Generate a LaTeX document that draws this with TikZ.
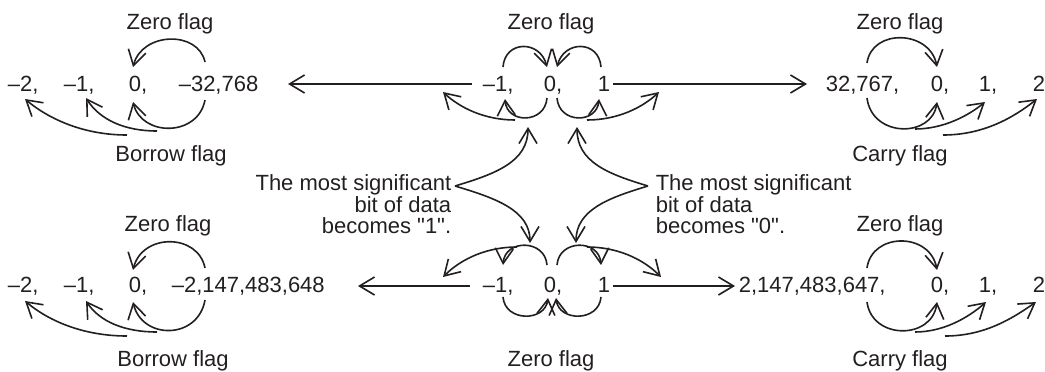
\documentclass[tikz,border=0pt]{standalone}
\usepackage{fontspec}
\setmainfont{Liberation Sans}
\usetikzlibrary{arrows.meta}
\definecolor{ink}{RGB}{35,31,32}
\newcommand\straightquote{{\XeTeXglyph\XeTeXglyphindex "quotedbl"\relax}}
\begin{document}
\begin{tikzpicture}[x=1pt,y=-1pt,line width=1.6pt,draw=ink,
  arr/.style={draw=ink,-{Straight Barb[length=15pt,width=18pt]}},
  num/.style={anchor=base west,inner sep=0pt,text=ink,font=\fontsize{22}{24}\selectfont},
  lab/.style={anchor=base,inner sep=0pt,text=ink,font=\fontsize{22}{24}\selectfont},
  blk/.style={inner sep=0pt,text=ink,font=\fontsize{22}{21.5}\selectfont}]
\useasboundingbox (0,0) rectangle (1045,372);

% ---------- numbers, top row ----------
\node[num] (tl0) at (7,91) {–2,};
\node[num] (tl1) at (63,91) {–1,};
\node[num] (tl2) at (128,91) {0,};
\node[num] (tl3) at (178,91) {–32,768};
\node[num] (tm0) at (482,91) {–1,};
\node[num] (tm1) at (543,91) {0,};
\node[num] (tm2) at (597,91) {1};
\node[num] (tr0) at (825,91) {32,767,};
\node[num] (tr1) at (930,91) {0,};
\node[num] (tr2) at (978,91) {1,};
\node[num] (tr3) at (1032,91) {2};
% ---------- numbers, bottom row ----------
\node[num] (bl0) at (7,292) {–2,};
\node[num] (bl1) at (63,292) {–1,};
\node[num] (bl2) at (128,292) {0,};
\node[num] (bl3) at (171,292) {–2,147,483,648};
\node[num] (bm0) at (482,292) {–1,};
\node[num] (bm1) at (543,292) {0,};
\node[num] (bm2) at (597,292) {1};
\node[num] (br0) at (738,292) {2,147,483,647,};
\node[num] (br1) at (930,292) {0,};
\node[num] (br2) at (978,292) {1,};
\node[num] (br3) at (1032,292) {2};

% ---------- labels ----------
\node[lab] (ztl) at (170,30) {Zero flag};
\node[lab] (btl) at (171,161) {Borrow flag};
\node[lab] (ztm) at (551,30) {Zero flag};
\node[lab] (ztr) at (900,30) {Zero flag};
\node[lab] (ctr) at (900,161) {Carry flag};
\node[lab] (zbl) at (168,231) {Zero flag};
\node[lab] (bbl) at (173,366) {Borrow flag};
\node[lab] (zbm) at (551,366) {Zero flag};
\node[lab] (zbr) at (900,231) {Zero flag};
\node[lab] (cbr) at (900,366) {Carry flag};

\node[blk,anchor=north east,align=right] (msb1) at (452,174)
  {The most significant\\bit of data\\becomes \straightquote1\straightquote.};
\node[blk,anchor=north west,align=left] (msb0) at (655,174)
  {The most significant\\bit of data\\becomes \straightquote0\straightquote.};

% ---------- long arrows ----------
\coordinate (la1S) at (472,84); \coordinate (la1E) at (288,84);
\draw[arr] (la1S) -- (la1E);
\coordinate (ra1S) at (613,84); \coordinate (ra1E) at (807,84);
\draw[arr] (ra1S) -- (ra1E);
\coordinate (la2S) at (470,286); \coordinate (la2E) at (358,286);
\draw[arr] (la2S) -- (la2E);
\coordinate (ra2S) at (613,286); \coordinate (ra2E) at (735,286);
\draw[arr] (ra2S) -- (ra2E);

% ---------- top-left loops ----------
\coordinate (a1) at (205,62); \coordinate (a2) at (133,67);
\draw[arr] (a1) .. controls (198,30) and (142,32) .. (a2);
\coordinate (a3) at (205,100); \coordinate (a4) at (133,102);
\draw[arr] (a3) .. controls (198,137) and (142,137) .. (a4);
\coordinate (a5) at (157,131); \coordinate (a6) at (86,98);
\draw[arr] (a5) .. controls (125,131) and (100,120) .. (a6);
\coordinate (a7) at (127,135); \coordinate (a8) at (25,99);
\draw[arr] (a7) .. controls (85,135) and (50,120) .. (a8);

% ---------- bottom-left loops ----------
\coordinate (b1) at (205,268); \coordinate (b2) at (133,270);
\draw[arr] (b1) .. controls (198,233) and (142,233) .. (b2);
\coordinate (b3) at (205,300); \coordinate (b4) at (133,302);
\draw[arr] (b3) .. controls (198,340) and (142,340) .. (b4);
\coordinate (b5) at (157,332); \coordinate (b6) at (86,301);
\draw[arr] (b5) .. controls (125,332) and (100,322) .. (b6);
\coordinate (b7) at (127,336); \coordinate (b8) at (25,301);
\draw[arr] (b7) .. controls (85,336) and (50,322) .. (b8);

% ---------- top-middle loops ----------
\coordinate (c1) at (503,67); \coordinate (c2) at (547,67);
\draw[arr] (c1) .. controls (505,40) and (540,40) .. (c2);
\coordinate (c3) at (601,67); \coordinate (c4) at (557,67);
\draw[arr] (c3) .. controls (599,40) and (564,40) .. (c4);
\coordinate (c5) at (547,98); \coordinate (c6) at (505,99);
\draw[arr] (c5) .. controls (545,124) and (507,124) .. (c6);
\coordinate (c7) at (557,98); \coordinate (c8) at (599,99);
\draw[arr] (c7) .. controls (559,124) and (597,124) .. (c8);
\coordinate (c9) at (515,120); \coordinate (c10) at (443,92);
\draw[arr] (c9) .. controls (485,120) and (460,108) .. (c10);
\coordinate (c11) at (587,120); \coordinate (c12) at (659,92);
\draw[arr] (c11) .. controls (617,120) and (642,108) .. (c12);

% ---------- bottom-middle loops ----------
\coordinate (d1) at (547,265); \coordinate (d2) at (503,265);
\draw[arr] (d1) .. controls (545,239) and (505,239) .. (d2);
\coordinate (d3) at (557,265); \coordinate (d4) at (601,265);
\draw[arr] (d3) .. controls (559,239) and (599,239) .. (d4);
\coordinate (d5) at (503,297); \coordinate (d6) at (548,298);
\draw[arr] (d5) .. controls (505,322) and (545,322) .. (d6);
\coordinate (d7) at (601,297); \coordinate (d8) at (556,298);
\draw[arr] (d7) .. controls (599,322) and (559,322) .. (d8);
\coordinate (d9) at (517,247); \coordinate (d10) at (443,277);
\draw[arr] (d9) .. controls (488,247) and (462,258) .. (d10);
\coordinate (d11) at (587,247); \coordinate (d12) at (661,277);
\draw[arr] (d11) .. controls (616,247) and (642,258) .. (d12);

% ---------- MSB arrows ----------
\coordinate (j1) at (455,186); \coordinate (j2) at (648,186);
\coordinate (e1) at (528,127); \coordinate (e2) at (530,243);
\coordinate (e3) at (577,127); \coordinate (e4) at (576,243);
\draw[arr] (j1) .. controls (495,174) and (528,162) .. (e1);
\draw[arr] (j1) .. controls (495,198) and (530,210) .. (e2);
\draw[arr] (j2) .. controls (608,174) and (577,162) .. (e3);
\draw[arr] (j2) .. controls (608,198) and (576,210) .. (e4);

% ---------- top-right loops ----------
\coordinate (f1) at (867,63); \coordinate (f2) at (937,67);
\draw[arr] (f1) .. controls (872,28) and (930,30) .. (f2);
\coordinate (f3) at (867,98); \coordinate (f4) at (937,102);
\draw[arr] (f3) .. controls (872,138) and (932,138) .. (f4);
\coordinate (f5) at (915,129); \coordinate (f6) at (985,102);
\draw[arr] (f5) .. controls (943,129) and (968,116) .. (f6);
\coordinate (f7) at (943,135); \coordinate (f8) at (1037,99);
\draw[arr] (f7) .. controls (983,135) and (1013,118) .. (f8);

% ---------- bottom-right loops ----------
\coordinate (g1) at (867,268); \coordinate (g2) at (937,270);
\draw[arr] (g1) .. controls (872,232) and (930,232) .. (g2);
\coordinate (g3) at (867,302); \coordinate (g4) at (937,302);
\draw[arr] (g3) .. controls (872,340) and (932,340) .. (g4);
\coordinate (g5) at (915,332); \coordinate (g6) at (986,302);
\draw[arr] (g5) .. controls (943,332) and (968,318) .. (g6);
\coordinate (g7) at (945,336); \coordinate (g8) at (1036,302);
\draw[arr] (g7) .. controls (985,336) and (1013,318) .. (g8);
\end{tikzpicture}
\end{document}
